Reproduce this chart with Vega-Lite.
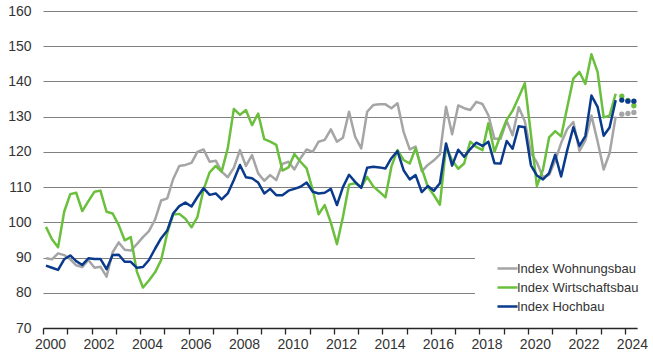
{
 "$schema": "https://vega.github.io/schema/vega-lite/v6.json",
 "width": 594, "height": 317,
 "autosize": {"type": "none"},
 "padding": {"left": 43, "top": 11, "right": 16, "bottom": 36},
 "config": {"view": {"stroke": null}, "font": "Liberation Sans"},
 "data": {"values": [
{"d":"2000-02-15","f":0,"Index Wohnungsbau":89.8,"Index Wirtschaftsbau":98.7,"Index Hochbau":87.7},
{"d":"2000-05-15","f":0,"Index Wohnungsbau":89.5,"Index Wirtschaftsbau":95.2,"Index Hochbau":87.1},
{"d":"2000-08-15","f":0,"Index Wohnungsbau":91.2,"Index Wirtschaftsbau":92.9,"Index Hochbau":86.5},
{"d":"2000-11-15","f":0,"Index Wohnungsbau":90.7,"Index Wirtschaftsbau":103.0,"Index Hochbau":89.5},
{"d":"2001-02-15","f":0,"Index Wohnungsbau":89.5,"Index Wirtschaftsbau":108.0,"Index Hochbau":90.6},
{"d":"2001-05-15","f":0,"Index Wohnungsbau":87.8,"Index Wirtschaftsbau":108.4,"Index Hochbau":89.0},
{"d":"2001-08-15","f":0,"Index Wohnungsbau":87.3,"Index Wirtschaftsbau":103.2,"Index Hochbau":87.9},
{"d":"2001-11-15","f":0,"Index Wohnungsbau":89.3,"Index Wirtschaftsbau":106.0,"Index Hochbau":89.8},
{"d":"2002-02-15","f":0,"Index Wohnungsbau":87.1,"Index Wirtschaftsbau":108.7,"Index Hochbau":89.6},
{"d":"2002-05-15","f":0,"Index Wohnungsbau":87.4,"Index Wirtschaftsbau":109.0,"Index Hochbau":89.6},
{"d":"2002-08-15","f":0,"Index Wohnungsbau":84.6,"Index Wirtschaftsbau":103.0,"Index Hochbau":86.7},
{"d":"2002-11-15","f":0,"Index Wohnungsbau":91.5,"Index Wirtschaftsbau":102.5,"Index Hochbau":90.7},
{"d":"2003-02-15","f":0,"Index Wohnungsbau":94.3,"Index Wirtschaftsbau":99.2,"Index Hochbau":90.8},
{"d":"2003-05-15","f":0,"Index Wohnungsbau":92.2,"Index Wirtschaftsbau":94.9,"Index Hochbau":88.8},
{"d":"2003-08-15","f":0,"Index Wohnungsbau":92.0,"Index Wirtschaftsbau":95.8,"Index Hochbau":88.8},
{"d":"2003-11-15","f":0,"Index Wohnungsbau":93.8,"Index Wirtschaftsbau":86.0,"Index Hochbau":87.1},
{"d":"2004-02-15","f":0,"Index Wohnungsbau":95.8,"Index Wirtschaftsbau":81.5,"Index Hochbau":87.3},
{"d":"2004-05-15","f":0,"Index Wohnungsbau":97.5,"Index Wirtschaftsbau":83.5,"Index Hochbau":89.3},
{"d":"2004-08-15","f":0,"Index Wohnungsbau":100.8,"Index Wirtschaftsbau":85.8,"Index Hochbau":92.5},
{"d":"2004-11-15","f":0,"Index Wohnungsbau":106.2,"Index Wirtschaftsbau":89.3,"Index Hochbau":95.5},
{"d":"2005-02-15","f":0,"Index Wohnungsbau":106.8,"Index Wirtschaftsbau":97.0,"Index Hochbau":97.7},
{"d":"2005-05-15","f":0,"Index Wohnungsbau":112.3,"Index Wirtschaftsbau":102.2,"Index Hochbau":102.5},
{"d":"2005-08-15","f":0,"Index Wohnungsbau":116.0,"Index Wirtschaftsbau":102.4,"Index Hochbau":104.6},
{"d":"2005-11-15","f":0,"Index Wohnungsbau":116.3,"Index Wirtschaftsbau":101.0,"Index Hochbau":105.6},
{"d":"2006-02-15","f":0,"Index Wohnungsbau":116.9,"Index Wirtschaftsbau":98.6,"Index Hochbau":104.5},
{"d":"2006-05-15","f":0,"Index Wohnungsbau":120.0,"Index Wirtschaftsbau":101.5,"Index Hochbau":107.2},
{"d":"2006-08-15","f":0,"Index Wohnungsbau":120.7,"Index Wirtschaftsbau":109.3,"Index Hochbau":109.7},
{"d":"2006-11-15","f":0,"Index Wohnungsbau":117.2,"Index Wirtschaftsbau":114.2,"Index Hochbau":107.8},
{"d":"2007-02-15","f":0,"Index Wohnungsbau":117.5,"Index Wirtschaftsbau":116.0,"Index Hochbau":108.2},
{"d":"2007-05-15","f":0,"Index Wohnungsbau":114.4,"Index Wirtschaftsbau":114.4,"Index Hochbau":106.5},
{"d":"2007-08-15","f":0,"Index Wohnungsbau":112.8,"Index Wirtschaftsbau":121.0,"Index Hochbau":108.2},
{"d":"2007-11-15","f":0,"Index Wohnungsbau":115.5,"Index Wirtschaftsbau":132.2,"Index Hochbau":112.0},
{"d":"2008-02-15","f":0,"Index Wohnungsbau":120.5,"Index Wirtschaftsbau":130.5,"Index Hochbau":116.3},
{"d":"2008-05-15","f":0,"Index Wohnungsbau":116.0,"Index Wirtschaftsbau":131.9,"Index Hochbau":112.8},
{"d":"2008-08-15","f":0,"Index Wohnungsbau":119.1,"Index Wirtschaftsbau":127.6,"Index Hochbau":112.5},
{"d":"2008-11-15","f":0,"Index Wohnungsbau":113.9,"Index Wirtschaftsbau":130.9,"Index Hochbau":111.3},
{"d":"2009-02-15","f":0,"Index Wohnungsbau":111.8,"Index Wirtschaftsbau":123.6,"Index Hochbau":108.2},
{"d":"2009-05-15","f":0,"Index Wohnungsbau":113.4,"Index Wirtschaftsbau":122.9,"Index Hochbau":109.5},
{"d":"2009-08-15","f":0,"Index Wohnungsbau":112.0,"Index Wirtschaftsbau":122.0,"Index Hochbau":107.7},
{"d":"2009-11-15","f":0,"Index Wohnungsbau":116.6,"Index Wirtschaftsbau":114.7,"Index Hochbau":107.7},
{"d":"2010-02-15","f":0,"Index Wohnungsbau":117.2,"Index Wirtschaftsbau":115.6,"Index Hochbau":109.0},
{"d":"2010-05-15","f":0,"Index Wohnungsbau":115.0,"Index Wirtschaftsbau":119.4,"Index Hochbau":109.5},
{"d":"2010-08-15","f":0,"Index Wohnungsbau":118.2,"Index Wirtschaftsbau":117.2,"Index Hochbau":110.1},
{"d":"2010-11-15","f":0,"Index Wohnungsbau":120.7,"Index Wirtschaftsbau":115.3,"Index Hochbau":111.3},
{"d":"2011-02-15","f":0,"Index Wohnungsbau":120.0,"Index Wirtschaftsbau":109.2,"Index Hochbau":108.7},
{"d":"2011-05-15","f":0,"Index Wohnungsbau":122.9,"Index Wirtschaftsbau":102.3,"Index Hochbau":108.2},
{"d":"2011-08-15","f":0,"Index Wohnungsbau":123.4,"Index Wirtschaftsbau":104.9,"Index Hochbau":108.4},
{"d":"2011-11-15","f":0,"Index Wohnungsbau":126.4,"Index Wirtschaftsbau":99.9,"Index Hochbau":109.5},
{"d":"2012-02-15","f":0,"Index Wohnungsbau":122.9,"Index Wirtschaftsbau":93.8,"Index Hochbau":104.9},
{"d":"2012-05-15","f":0,"Index Wohnungsbau":124.0,"Index Wirtschaftsbau":101.5,"Index Hochbau":110.0},
{"d":"2012-08-15","f":0,"Index Wohnungsbau":131.4,"Index Wirtschaftsbau":110.7,"Index Hochbau":113.5},
{"d":"2012-11-15","f":0,"Index Wohnungsbau":124.3,"Index Wirtschaftsbau":111.1,"Index Hochbau":111.5},
{"d":"2013-02-15","f":0,"Index Wohnungsbau":121.0,"Index Wirtschaftsbau":110.0,"Index Hochbau":109.8},
{"d":"2013-05-15","f":0,"Index Wohnungsbau":131.4,"Index Wirtschaftsbau":112.9,"Index Hochbau":115.5},
{"d":"2013-08-15","f":0,"Index Wohnungsbau":133.3,"Index Wirtschaftsbau":110.2,"Index Hochbau":115.8},
{"d":"2013-11-15","f":0,"Index Wohnungsbau":133.5,"Index Wirtschaftsbau":108.7,"Index Hochbau":115.6},
{"d":"2014-02-15","f":0,"Index Wohnungsbau":133.5,"Index Wirtschaftsbau":107.1,"Index Hochbau":115.3},
{"d":"2014-05-15","f":0,"Index Wohnungsbau":132.4,"Index Wirtschaftsbau":115.8,"Index Hochbau":118.2},
{"d":"2014-08-15","f":0,"Index Wohnungsbau":133.8,"Index Wirtschaftsbau":120.5,"Index Hochbau":120.2},
{"d":"2014-11-15","f":0,"Index Wohnungsbau":125.7,"Index Wirtschaftsbau":117.7,"Index Hochbau":114.8},
{"d":"2015-02-15","f":0,"Index Wohnungsbau":120.7,"Index Wirtschaftsbau":116.7,"Index Hochbau":112.2},
{"d":"2015-05-15","f":0,"Index Wohnungsbau":121.5,"Index Wirtschaftsbau":121.0,"Index Hochbau":113.4},
{"d":"2015-08-15","f":0,"Index Wohnungsbau":114.5,"Index Wirtschaftsbau":115.3,"Index Hochbau":108.6},
{"d":"2015-11-15","f":0,"Index Wohnungsbau":116.3,"Index Wirtschaftsbau":110.1,"Index Hochbau":110.3},
{"d":"2016-02-15","f":0,"Index Wohnungsbau":117.6,"Index Wirtschaftsbau":107.7,"Index Hochbau":109.0},
{"d":"2016-05-15","f":0,"Index Wohnungsbau":119.3,"Index Wirtschaftsbau":105.0,"Index Hochbau":111.1},
{"d":"2016-08-15","f":0,"Index Wohnungsbau":132.8,"Index Wirtschaftsbau":121.4,"Index Hochbau":122.4},
{"d":"2016-11-15","f":0,"Index Wohnungsbau":125.0,"Index Wirtschaftsbau":117.6,"Index Hochbau":116.1},
{"d":"2017-02-15","f":0,"Index Wohnungsbau":133.2,"Index Wirtschaftsbau":115.2,"Index Hochbau":120.6},
{"d":"2017-05-15","f":0,"Index Wohnungsbau":132.4,"Index Wirtschaftsbau":116.7,"Index Hochbau":118.6},
{"d":"2017-08-15","f":0,"Index Wohnungsbau":131.9,"Index Wirtschaftsbau":122.9,"Index Hochbau":120.8},
{"d":"2017-11-15","f":0,"Index Wohnungsbau":134.2,"Index Wirtschaftsbau":121.4,"Index Hochbau":122.6},
{"d":"2018-02-15","f":0,"Index Wohnungsbau":133.6,"Index Wirtschaftsbau":120.5,"Index Hochbau":121.7},
{"d":"2018-05-15","f":0,"Index Wohnungsbau":130.4,"Index Wirtschaftsbau":128.1,"Index Hochbau":122.9},
{"d":"2018-08-15","f":0,"Index Wohnungsbau":123.7,"Index Wirtschaftsbau":120.0,"Index Hochbau":116.8},
{"d":"2018-11-15","f":0,"Index Wohnungsbau":123.7,"Index Wirtschaftsbau":124.8,"Index Hochbau":116.7},
{"d":"2019-02-15","f":0,"Index Wohnungsbau":128.8,"Index Wirtschaftsbau":129.1,"Index Hochbau":123.1},
{"d":"2019-05-15","f":0,"Index Wohnungsbau":124.7,"Index Wirtschaftsbau":131.7,"Index Hochbau":120.9},
{"d":"2019-08-15","f":0,"Index Wohnungsbau":132.7,"Index Wirtschaftsbau":135.5,"Index Hochbau":127.3},
{"d":"2019-11-15","f":0,"Index Wohnungsbau":128.7,"Index Wirtschaftsbau":139.5,"Index Hochbau":127.0},
{"d":"2020-02-15","f":0,"Index Wohnungsbau":119.7,"Index Wirtschaftsbau":125.0,"Index Hochbau":116.2},
{"d":"2020-05-15","f":0,"Index Wohnungsbau":117.0,"Index Wirtschaftsbau":110.3,"Index Hochbau":113.3},
{"d":"2020-08-15","f":0,"Index Wohnungsbau":112.8,"Index Wirtschaftsbau":115.0,"Index Hochbau":112.2},
{"d":"2020-11-15","f":0,"Index Wohnungsbau":113.5,"Index Wirtschaftsbau":124.1,"Index Hochbau":114.0},
{"d":"2021-02-15","f":0,"Index Wohnungsbau":117.5,"Index Wirtschaftsbau":125.9,"Index Hochbau":119.2},
{"d":"2021-05-15","f":0,"Index Wohnungsbau":122.5,"Index Wirtschaftsbau":124.4,"Index Hochbau":113.0},
{"d":"2021-08-15","f":0,"Index Wohnungsbau":126.5,"Index Wirtschaftsbau":132.7,"Index Hochbau":120.5},
{"d":"2021-11-15","f":0,"Index Wohnungsbau":128.5,"Index Wirtschaftsbau":140.8,"Index Hochbau":127.0},
{"d":"2022-02-15","f":0,"Index Wohnungsbau":120.3,"Index Wirtschaftsbau":142.7,"Index Hochbau":121.7},
{"d":"2022-05-15","f":0,"Index Wohnungsbau":123.3,"Index Wirtschaftsbau":139.3,"Index Hochbau":124.5},
{"d":"2022-08-15","f":0,"Index Wohnungsbau":130.3,"Index Wirtschaftsbau":147.7,"Index Hochbau":136.0},
{"d":"2022-11-15","f":0,"Index Wohnungsbau":123.0,"Index Wirtschaftsbau":142.7,"Index Hochbau":132.8},
{"d":"2023-02-15","f":0,"Index Wohnungsbau":115.0,"Index Wirtschaftsbau":129.8,"Index Hochbau":124.6},
{"d":"2023-05-15","f":0,"Index Wohnungsbau":119.6,"Index Wirtschaftsbau":130.3,"Index Hochbau":126.9},
{"d":"2023-08-15","f":0,"Index Wohnungsbau":130.0,"Index Wirtschaftsbau":136.5,"Index Hochbau":134.7},
{"d":"2023-11-15","f":1,"Index Wohnungsbau":130.7,"Index Wirtschaftsbau":135.8,"Index Hochbau":134.7},
{"d":"2024-02-15","f":1,"Index Wohnungsbau":130.9,"Index Wirtschaftsbau":134.6,"Index Hochbau":134.4},
{"d":"2024-05-15","f":1,"Index Wohnungsbau":131.2,"Index Wirtschaftsbau":133.1,"Index Hochbau":134.4}
 ]},
 "transform": [{"fold": ["Index Wohnungsbau", "Index Wirtschaftsbau", "Index Hochbau"], "as": ["s", "v"]}],
 "encoding": {
  "x": {"field": "d", "type": "temporal",
        "scale": {"type": "utc", "domain": [{"year": 2000, "month": 1, "date": 1, "utc": true}, {"year": 2024, "month": 7, "date": 1, "utc": true}]},
        "axis": {"title": null, "grid": false, "tickCount": {"interval": "year", "step": 1},
                 "labelExpr": "utcyear(datum.value) % 2 === 0 ? utcFormat(datum.value, '%Y') : ''",
                 "labelFlush": false, "labelOverlap": false, "labelFontSize": 14, "labelColor": "#333333",
                 "labelPadding": 3, "labelOffset": 7, "domainColor": "#262626", "domainWidth": 1.5,
                 "tickColor": "#262626", "tickSize": 6, "tickWidth": 1.3}},
  "y": {"field": "v", "type": "quantitative",
        "scale": {"domain": [70, 160], "nice": false, "zero": false},
        "axis": {"title": null, "values": [70, 80, 90, 100, 110, 120, 130, 140, 150, 160], "grid": true,
                 "gridColor": "#808080", "gridWidth": 1.2, "domain": false, "ticks": false, "tickSize": 0,
                 "labelPadding": 12, "labelFontSize": 14, "labelColor": "#333333"}}
 },
 "layer": [
  {"transform": [{"filter": "datum.f == 0"}],
   "mark": {"type": "line", "strokeWidth": 2.5, "strokeJoin": "round"},
   "encoding": {"color": {"field": "s", "type": "nominal",
      "scale": {"domain": ["Index Wohnungsbau", "Index Wirtschaftsbau", "Index Hochbau"], "range": ["#a5a5a5", "#6abf3c", "#0a3a8c"]},
      "legend": {"title": null, "orient": "none", "legendX": 432, "legendY": 240, "fillColor": "white", "padding": 6,
                 "symbolType": "stroke", "symbolSize": 400, "symbolStrokeWidth": 2.5, "symbolOffset": 15,
                 "labelFontSize": 13, "labelColor": "#333333", "labelOffset": -2, "rowPadding": 0, "labelLimit": 300}}}},
  {"transform": [{"filter": "datum.f == 1"}],
   "mark": {"type": "circle", "size": 28, "opacity": 1},
   "encoding": {"fill": {"field": "s", "type": "nominal",
      "scale": {"domain": ["Index Wohnungsbau", "Index Wirtschaftsbau", "Index Hochbau"], "range": ["#a5a5a5", "#6abf3c", "#0a3a8c"]},
      "legend": null}}}
 ]
}
